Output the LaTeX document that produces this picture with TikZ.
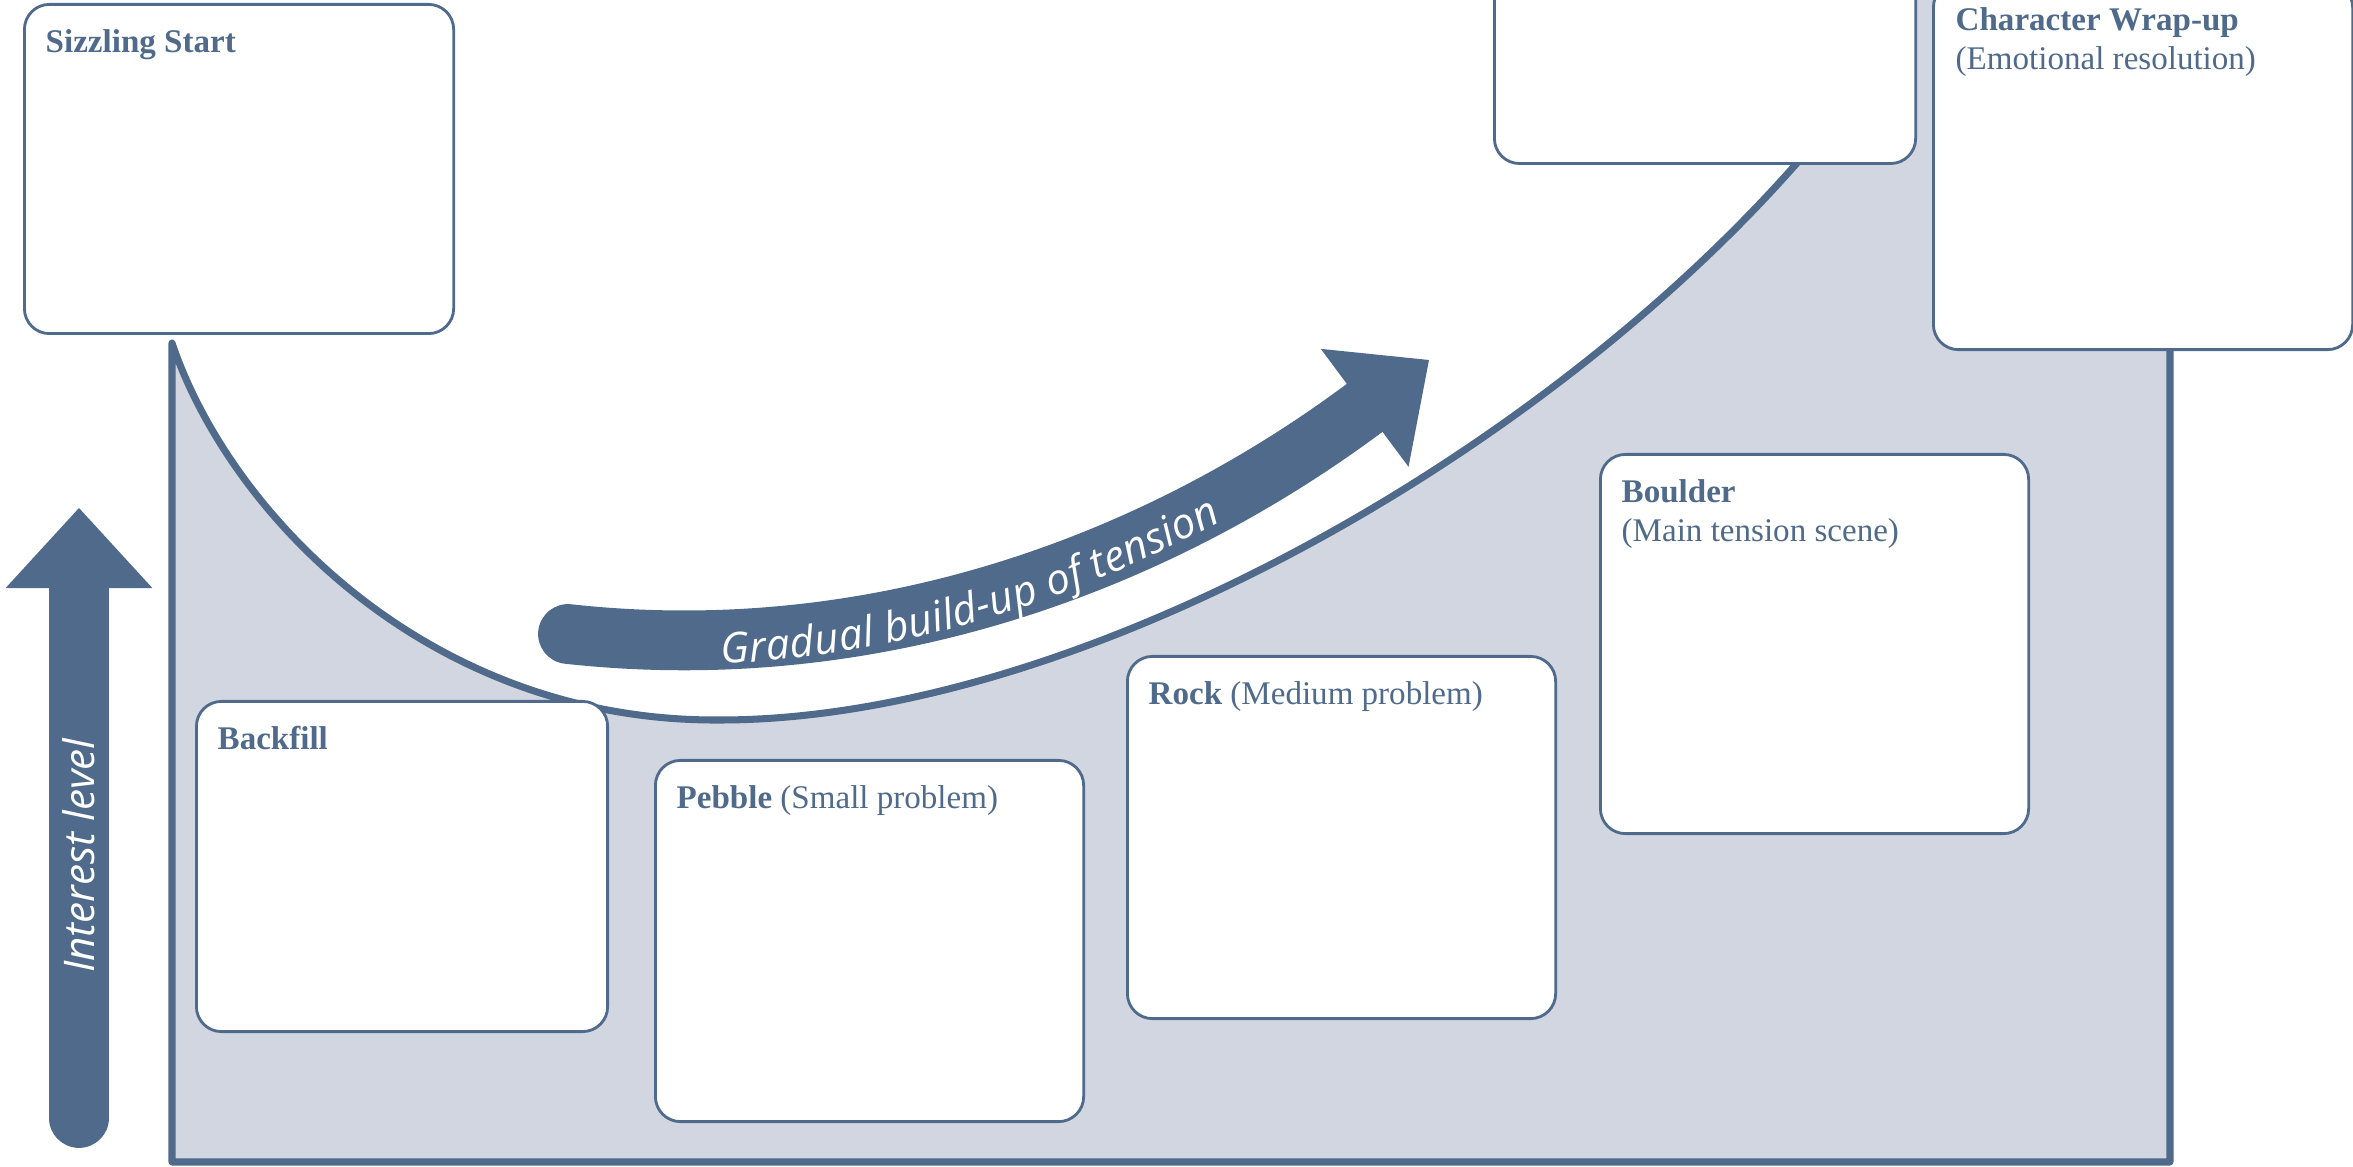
\documentclass[tikz,border=0pt]{standalone}
\usepackage{fontspec}
\setmainfont{Liberation Serif}
\newfontfamily\tensionfont{Open Sans}
\usetikzlibrary{arrows.meta, positioning, decorations.text}
\definecolor{inkblue}{RGB}{79,106,138}
\definecolor{fillgrey}{RGB}{209,214,224}

\begin{document}
\begin{tikzpicture}[x=0.01cm, y=-0.01cm,
  card/.style={draw=inkblue, line width=0.8pt, fill=white, rounded corners=0.25cm, inner sep=0pt, anchor=north west},
  cardtext/.style={inner sep=0pt, align=left, text=inkblue, font=\fontsize{9.4pt}{11.1pt}\selectfont},
  fatarrow/.style={draw=inkblue, line width=17pt, line cap=round, -{Triangle[width=41.8pt, length=22.8pt, line width=0pt 0 0]}},
  arrowlabel/.style={text=white, inner sep=0pt, font=\tensionfont\itshape\fontsize{12pt}{14pt}\selectfont}
]
  \useasboundingbox (0,0) rectangle (2353,1167);
  \clip (0,0) rectangle (2353,1167);

  % interest area under the curve
  \filldraw[fill=fillgrey, draw=inkblue, line width=2pt, line join=round]
    (172,343) .. controls (230,515) and (430,722) .. (720,720)
    .. controls (1070,720) and (1533,463) .. (1797,163)
    -- (1880,-30) -- (2170,-30) -- (2170,1162) -- (172,1162) -- cycle;

  % arrows
  \coordinate (lvl-foot) at (79,1118);
  \coordinate (lvl-tip) at (79,508);
  \draw[fatarrow] (lvl-foot) -- node[arrowlabel, sloped, pos=0.43] (lvl-label) {Interest level} (lvl-tip);

  \coordinate (tension-start) at (568,634);
  \coordinate (tension-tip) at (1429,360);
  \draw[fatarrow] (tension-start) .. controls (868,667) and (1148,569) .. (tension-tip);
  \path[decorate, decoration={text along path, text align={left, left indent=1.52cm}, raise=-0.24cm, text color=white,
      text={|\tensionfont\itshape\fontsize{12pt}{14pt}\selectfont|Gradual build-up of tension}}]
    (tension-start) .. controls (868,667) and (1148,569) .. (tension-tip);

  % cards
  \node[card, minimum width=4.29cm, minimum height=3.29cm] (sizzle) at (23,3) {};
  \node[cardtext, below right=0.217cm and 0.22cm of sizzle.north west] (sizzle-label) {\strut\textbf{Sizzling Start}};

  \node[card, minimum width=4.21cm, minimum height=2.02cm] (peak) at (1493,-40) {};

  \node[card, minimum width=4.19cm, minimum height=3.67cm] (wrapup) at (1932,-19) {};
  \node[cardtext, below right=0.217cm and 0.23cm of wrapup.north west] (wrapup-label) {\strut\textbf{Character Wrap-up}\\(Emotional resolution)};

  \node[card, minimum width=4.11cm, minimum height=3.30cm] (backfill) at (195,700) {};
  \node[cardtext, below right=0.217cm and 0.22cm of backfill.north west] (backfill-label) {\strut\textbf{Backfill}};

  \node[card, minimum width=4.28cm, minimum height=3.61cm] (pebble) at (654,759) {};
  \node[cardtext, below right=0.217cm and 0.22cm of pebble.north west] (pebble-label) {\strut\textbf{Pebble} (Small problem)};

  \node[card, minimum width=4.28cm, minimum height=3.62cm] (rock) at (1126,655) {};
  \node[cardtext, below right=0.217cm and 0.22cm of rock.north west] (rock-label) {\strut\textbf{Rock} (Medium problem)};

  \node[card, minimum width=4.28cm, minimum height=3.79cm] (boulder) at (1599,453) {};
  \node[cardtext, below right=0.217cm and 0.22cm of boulder.north west] (boulder-label) {\strut\textbf{Boulder}\\(Main tension scene)};
\end{tikzpicture}
\end{document}
